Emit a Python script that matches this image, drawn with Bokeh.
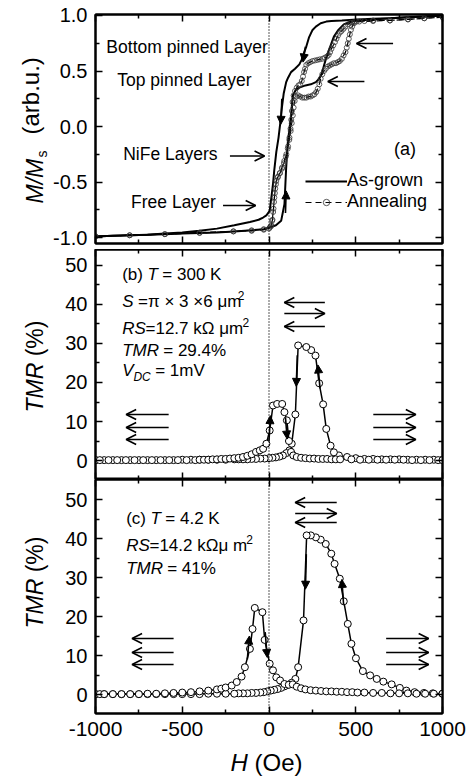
import math
from bokeh.plotting import figure
from bokeh.models import (Range1d, LinearAxis, FixedTicker, PrintfTickFormatter,
                          Span, Label, Arrow, OpenHead, NormalHead, Legend, LegendItem)
from bokeh.layouts import column, row
from bokeh.embed import file_html
from bokeh.resources import INLINE

# ---------------- data ----------------
x_major = [-1000, -500, 0, 500, 1000]
x_minor = [-750, -250, 250, 750]
m_major = [-1.0, -0.5, 0.0, 0.5, 1.0]
m_minor = [-0.75, -0.25, 0.25, 0.75]
tmr_major = [0, 10, 20, 30, 40, 50]
tmr_minor = [5, 15, 25, 35, 45]

# (a) M/Ms, as-grown, field increasing
ag_up_H = [-1000, -900, -800, -700, -600, -500, -400, -300, -200, -100,
           -30, 4, 40, 70, 89, 99, 108, 118, 127, 137,
           155, 175, 210, 241, 270, 289, 305, 317, 330, 346,
           374, 400, 431, 470, 507, 600, 700, 800, 900, 1000]
ag_up_M = [-0.99, -0.985, -0.98, -0.975, -0.97, -0.965, -0.96, -0.955, -0.945, -0.935,
           -0.925, -0.91, -0.89, -0.85, -0.70, -0.37, -0.15, -0.02, 0.10, 0.28,
           0.33, 0.35, 0.37, 0.38, 0.40, 0.43, 0.48, 0.55, 0.62, 0.69,
           0.81, 0.87, 0.92, 0.945, 0.955, 0.965, 0.975, 0.985, 0.99, 1.0]
# (a) as-grown, field decreasing
ag_dn_H = [1000, 900, 800, 700, 600, 507, 420, 360, 330, 298,
           270, 251, 230, 215, 203, 188, 175, 150, 127, 110,
           99, 85, 75, 68, 55, 42, 30, 23, 12, 4,
           -15, -34, -60, -110, -200, -300, -400, -500, -600, -700,
           -800, -900, -1000]
ag_dn_M = [1.0, 0.99, 0.985, 0.975, 0.97, 0.965, 0.955, 0.95, 0.945, 0.93,
           0.90, 0.87, 0.80, 0.72, 0.67, 0.60, 0.56, 0.52, 0.49, 0.44,
           0.40, 0.30, 0.18, 0.07, -0.10, -0.23, -0.40, -0.52, -0.66, -0.76,
           -0.80, -0.82, -0.84, -0.86, -0.89, -0.92, -0.94, -0.955, -0.965, -0.975,
           -0.98, -0.985, -0.99]
# (a) annealed, field increasing
an_up_H = [-1000, -803, -600, -400, -205, -100, -30, 4, 13, 20,
           26, 31, 36, 42, 52, 63, 75, 86, 97, 108,
           117, 125, 131, 137, 142, 148, 157, 168, 180, 192,
           204, 215, 228, 240, 251, 262, 272, 281, 290, 298,
           307, 317, 327, 339, 350, 362, 374, 386, 397, 408,
           420, 430, 441, 448, 454, 460, 466, 472, 479, 490,
           505, 550, 600, 697, 801, 895, 1000]
an_up_M = [-0.99, -0.98, -0.97, -0.96, -0.945, -0.935, -0.925, -0.91, -0.89, -0.84,
           -0.74, -0.64, -0.56, -0.49, -0.45, -0.42, -0.38, -0.33, -0.27, -0.20,
           -0.12, -0.04, 0.03, 0.10, 0.17, 0.23, 0.27, 0.28, 0.27, 0.26,
           0.26, 0.26, 0.27, 0.27, 0.28, 0.29, 0.31, 0.34, 0.38, 0.43,
           0.47, 0.50, 0.52, 0.54, 0.55, 0.56, 0.57, 0.57, 0.58, 0.59,
           0.61, 0.64, 0.67, 0.71, 0.75, 0.79, 0.83, 0.87, 0.90, 0.93,
           0.945, 0.95, 0.955, 0.955, 0.965, 0.975, 0.985]
# (a) annealed, field decreasing
an_dn_H = [1000, 895, 801, 697, 600, 520, 490, 470, 455, 441,
           430, 418, 408, 398, 389, 380, 370, 360, 352, 344,
           334, 322, 308, 293, 279, 265, 251, 238, 226, 215,
           208, 202, 196, 189, 180, 170, 160, 150, 142, 136,
           132, 128, 124, 118, 110, 100, 88, 75, 62, 50,
           40, 34, 29, 24, 18, 11, 0, -30, -100, -205,
           -400, -600, -803, -1000]
an_dn_M = [0.985, 0.975, 0.965, 0.955, 0.95, 0.945, 0.94, 0.935, 0.92, 0.90,
           0.88, 0.86, 0.845, 0.82, 0.79, 0.76, 0.73, 0.70, 0.67, 0.645,
           0.63, 0.62, 0.61, 0.605, 0.60, 0.595, 0.59, 0.58, 0.57, 0.555,
           0.52, 0.49, 0.45, 0.41, 0.38, 0.37, 0.35, 0.32, 0.28, 0.22,
           0.14, 0.06, -0.02, -0.10, -0.18, -0.25, -0.31, -0.37, -0.42, -0.46,
           -0.52, -0.60, -0.68, -0.77, -0.85, -0.90, -0.92, -0.93, -0.94, -0.945,
           -0.955, -0.97, -0.98, -0.99]

# (b) TMR at 300 K, field decreasing
b_dn_H = [1000, 950, 900, 850, 800, 750, 700, 650, 600, 550, 500, 450,
          403, 374, 355, 330, 312, 289, 268, 243, 215, 168,
          152, 131, 118, 100, 80, 60, 40, 20, 0,
          -25, -50, -75, -100, -125, -150, -175, -200,
          -250, -300, -350, -400, -450, -500, -550, -600, -650, -700, -750, -800, -850, -900, -950, -1000]
b_dn_T = [0.2, 0.2, 0.2, 0.2, 0.2, 0.3, 0.3, 0.3, 0.4, 0.4, 0.6, 0.9,
          1.3, 2.1, 3.8, 8.1, 14.4, 19.8, 26.9, 28.3, 29.1, 29.5,
          11.8, 4.3, 2.6, 1.9, 1.3, 1.0, 0.8, 0.7, 0.6,
          0.5, 0.5, 0.4, 0.4, 0.3, 0.3, 0.3, 0.3,
          0.2, 0.2, 0.2, 0.2, 0.2, 0.2, 0.1, 0.1, 0.1, 0.1, 0.1, 0.1, 0.1, 0.1, 0.1, 0.1]
# (b) field increasing
b_up_H = [-1000, -975, -925, -875, -825, -775, -725, -675, -625, -575, -525, -475, -425,
          -400, -375, -350, -325, -300, -275, -250, -225, -200, -175, -150, -125, -100, -75,
          -53, -34, -15, 4, 23, 47, 76, 89, 103, 115, 127,
          140, 160, 185, 210, 235, 260, 285, 310, 335, 360, 385, 410,
          475, 525, 575, 625, 675, 725, 775, 825, 875, 925, 975, 1000]
b_up_T = [0.1, 0.1, 0.1, 0.1, 0.1, 0.1, 0.1, 0.1, 0.1, 0.1, 0.1, 0.1, 0.1,
          0.2, 0.2, 0.2, 0.3, 0.3, 0.4, 0.4, 0.5, 0.6, 0.7, 0.9, 1.2, 1.6, 2.2,
          2.6, 3.0, 4.3, 7.7, 14.1, 14.5, 14.5, 12.4, 10.3, 5.0, 2.2,
          1.3, 0.9, 0.7, 0.6, 0.5, 0.5, 0.4, 0.4, 0.4, 0.3, 0.3, 0.3,
          0.3, 0.2, 0.2, 0.2, 0.2, 0.2, 0.2, 0.1, 0.1, 0.1, 0.1, 0.1]

# (c) TMR at 4.2 K, field decreasing
c_dn_H = [1000, 944, 893, 839, 792, 754, 707, 659, 621, 583,
          541, 501, 475, 454, 431, 408, 378, 359, 327, 298,
          270, 241, 217,
          199, 168, 152, 130, 110, 90, 70, 50, 30, 10,
          -10, -30, -50, -75, -100, -125, -150, -175, -200,
          -250, -300, -350, -400, -450, -500, -550, -600, -650, -700, -750, -800, -850, -900, -950, -1000]
c_dn_T = [0.2, 0.3, 0.4, 0.6, 1.0, 1.7, 2.6, 3.3, 4.0, 4.9,
          6.0, 9.3, 13.0, 18.1, 23.9, 29.7, 33.5, 36.1, 38.6, 39.7,
          40.3, 40.8, 40.8,
          19.0, 7.0, 4.0, 3.0, 2.5, 2.1, 1.7, 1.4, 1.2, 1.0,
          0.8, 0.6, 0.5, 0.4, 0.4, 0.3, 0.3, 0.3, 0.2,
          0.2, 0.2, 0.2, 0.1, 0.1, 0.1, 0.1, 0.1, 0.1, 0.1, 0.1, 0.1, 0.1, 0.1, 0.1, 0.1]
# (c) field increasing
c_up_H = [-1000, -975, -950, -900, -850, -800, -750, -700, -650, -600,
          -550, -500, -450, -400, -350, -300, -275, -250, -215, -186,
          -158, -139, -110, -95, -82, -38, -25, 4, 23, 42,
          64, 89, 114, 137, 160, 185, 210, 240, 270, 300,
          330, 360, 390, 420, 450, 480, 510, 550, 600, 650,
          700, 750, 800, 850, 900, 950, 1000]
c_up_T = [0.1, 0.1, 0.1, 0.1, 0.1, 0.1, 0.1, 0.2, 0.2, 0.3,
          0.4, 0.5, 0.6, 0.8, 1.0, 1.3, 1.5, 1.8, 2.3, 3.2,
          4.6, 7.0, 11.7, 16.8, 22.2, 21.1, 14.0, 7.9, 6.2, 4.4,
          3.6, 2.7, 2.5, 2.6, 2.0, 1.6, 1.3, 1.1, 1.0, 0.9,
          0.8, 0.8, 0.7, 0.7, 0.6, 0.6, 0.5, 0.5, 0.4, 0.4,
          0.3, 0.3, 0.3, 0.2, 0.2, 0.2, 0.2]

for a_, b_ in [(ag_up_H, ag_up_M), (ag_dn_H, ag_dn_M), (an_up_H, an_up_M), (an_dn_H, an_dn_M),
               (b_dn_H, b_dn_T), (b_up_H, b_up_T), (c_dn_H, c_dn_T), (c_up_H, c_up_T)]:
    assert len(a_) == len(b_), (len(a_), len(b_))

# ---------------- layout helpers ----------------
FONT = "Liberation Sans"
STRIP = 50            # width of the left strip holding the rotated axis titles
FL, FR = 91, 442      # frame left/right in window pixels
PANELS = {"a": (14, 243, -1.054, 1.009),
          "b": (249, 479, -4.87, 54.10),
          "c": (479, 713, -4.87, 55.13)}
GAP_AB = 6
X_LABEL_H = 32
TOP_H = 778 - X_LABEL_H
MID = 0.35            # label anchor sits this many em above the alphabetic baseline

def hx(px):
    return -1000 + (px - FL) / (FR - FL) * 2000

def vy(key, py):
    top, bot, y0, y1 = PANELS[key]
    return y1 - (py - top) / (bot - top) * (y1 - y0)

WID = {' ': 278, '(': 333, ')': 333, '%': 889, '.': 278, '=': 584, '-': 333, '/': 278,
       '\u00d7': 584, '\u03c0': 549, '\u03bc': 576, '\u03a9': 768,
       'A': 667, 'B': 667, 'C': 722, 'D': 722, 'F': 611, 'H': 722, 'K': 667, 'L': 556,
       'M': 833, 'N': 722, 'O': 778, 'R': 722, 'S': 667, 'T': 611, 'V': 667,
       'a': 556, 'b': 556, 'c': 500, 'd': 556, 'e': 556, 'g': 556, 'i': 222, 'k': 500,
       'l': 222, 'm': 833, 'n': 556, 'o': 556, 'p': 556, 'r': 333, 's': 500, 't': 278,
       'u': 556, 'w': 722, 'y': 500}

def tw(s, size):
    return sum(WID.get(ch, 556) for ch in s) * size / 1000.0

def label(p, text, x, y, size, style="normal", angle=0.0):
    p.add_layout(Label(x=x, y=y, text=text, text_font=FONT, text_font_size=f"{size}px",
                       text_font_style=style, text_color="black", angle=angle,
                       text_align="left", text_baseline="alphabetic"))

def rich(p, key, x_px, base_py, pieces):
    cur = x_px
    for text, style, size, dy in pieces:
        lead = len(text) - len(text.lstrip(" "))
        label(p, text.strip(), hx(cur + tw(" " * lead, size)),
              vy(key, base_py + dy - MID * size), size, style)
        cur += tw(text, size)

def style_axis(ax, show, size):
    ax.axis_line_width = 2
    ax.axis_line_color = "black"
    ax.major_tick_in = 7
    ax.major_tick_out = 0
    ax.minor_tick_in = 4
    ax.minor_tick_out = 0
    ax.major_tick_line_width = 1.5
    ax.minor_tick_line_width = 1.5
    ax.major_tick_line_color = "black"
    ax.minor_tick_line_color = "black"
    ax.major_label_text_font = FONT
    ax.major_label_text_color = "black"
    if show:
        ax.major_label_text_font_size = f"{size}px"
        ax.major_label_standoff = 8
    else:
        ax.major_label_text_font_size = "0px"
        ax.major_label_text_alpha = 0
        ax.major_label_standoff = 0

def make_panel(key, ymaj, yminor, yfmt, show_x, btop, bbot):
    top, bot, y0, y1 = PANELS[key]
    p = figure(width=473 - STRIP, height=btop + (bot - top) + bbot,
               x_range=Range1d(-1000, 1000), y_range=Range1d(y0, y1),
               output_backend="svg", toolbar_location=None,
               x_axis_location=None, y_axis_location=None,
               min_border_left=FL - STRIP, min_border_right=473 - FR,
               min_border_top=btop, min_border_bottom=bbot)
    p.grid.visible = False
    p.outline_line_color = "black"
    p.outline_line_width = 2
    p.background_fill_color = "white"
    p.border_fill_color = "white"
    for loc, show in (("below", show_x), ("above", False)):
        ax = LinearAxis(ticker=FixedTicker(ticks=x_major, minor_ticks=x_minor),
                        formatter=PrintfTickFormatter(format="%d"))
        style_axis(ax, show, 21)
        p.add_layout(ax, loc)
    for loc, show in (("left", True), ("right", False)):
        ax = LinearAxis(ticker=FixedTicker(ticks=ymaj, minor_ticks=yminor),
                        formatter=PrintfTickFormatter(format=yfmt))
        style_axis(ax, show, 20)
        p.add_layout(ax, loc)
    p.add_layout(Span(location=0, dimension="height", line_color="black",
                      line_dash="1 2", line_width=1.3))
    return p

def arrow(p, x1, y1, x2, y2, filled=False):
    if filled:
        head = NormalHead(size=8, fill_color="black", line_color="black", line_width=1)
    else:
        head = OpenHead(size=10, line_color="black", line_width=1.6)
    p.add_layout(Arrow(end=head, x_start=x1, y_start=y1, x_end=x2, y_end=y2,
                       line_color="black", line_width=1.6))

def harrow(p, key, px_tail, px_head, py):
    arrow(p, hx(px_tail), vy(key, py), hx(px_head), vy(key, py))

# ---------------- panel (a) ----------------
pa = make_panel("a", m_major, m_minor, "%.1f", False, 14, GAP_AB)
r_ag1 = pa.line(ag_up_H, ag_up_M, line_color="black", line_width=2)
pa.line(ag_dn_H, ag_dn_M, line_color="black", line_width=2)
r_an_l = pa.line(an_up_H, an_up_M, line_color="black", line_width=1.2, line_dash="6 4")
pa.line(an_dn_H, an_dn_M, line_color="black", line_width=1.2, line_dash="6 4")
r_an_c = pa.scatter(an_up_H, an_up_M, marker="circle", size=5, fill_color=None,
                    line_color="#333333", line_width=0.8)
pa.scatter(an_dn_H, an_dn_M, marker="circle", size=5, fill_color=None,
           line_color="#333333", line_width=0.8)

legend = Legend(items=[LegendItem(label="As-grown", renderers=[r_ag1]),
                       LegendItem(label="Annealing", renderers=[r_an_l, r_an_c])],
                location=(210, 31), glyph_width=42, glyph_height=16,
                label_height=16, label_standoff=0, spacing=0, padding=0, margin=0,
                label_text_font=FONT, label_text_font_size="18px", label_text_color="black",
                border_line_alpha=0, background_fill_alpha=0)
pa.add_layout(legend)

for txt, x, y in [("Bottom pinned Layer", 102, 53), ("Top pinned Layer", 113, 86),
                  ("NiFe Layers", 119, 160), ("Free Layer", 127, 208)]:
    rich(pa, "a", x, y, [(txt, "normal", 17.5, 0)])
rich(pa, "a", 393, 155, [("(a)", "normal", 18, 0)])
harrow(pa, "a", 227, 262, 155.5)
harrow(pa, "a", 220, 253, 205)
harrow(pa, "a", 392, 355, 43)
harrow(pa, "a", 363, 326, 81)
arrow(pa, 210, 0.72, 196, 0.58, True)
arrow(pa, 74, 0.25, 68, 0.02, True)
arrow(pa, 95, -0.78, 99, -0.58, True)

# ---------------- panel (b) ----------------
pb = make_panel("b", tmr_major, tmr_minor, "%d", False, 0, 0)
for H, T in [(b_dn_H, b_dn_T), (b_up_H, b_up_T)]:
    pb.line(H, T, line_color="black", line_width=1.5)
for H, T in [(b_dn_H, b_dn_T), (b_up_H, b_up_T)]:
    pb.scatter(H, T, marker="circle", size=7, fill_color="white", line_color="black", line_width=1)

S17 = 17
rich(pb, "b", 118, 280, [("(b) ", "normal", S17, 0), ("T", "italic", S17, 0), (" = 300 K", "normal", S17, 0)])
rich(pb, "b", 118, 307, [("S", "italic", S17, 0), (" =\u03c0 \u00d7 3 \u00d76 \u03bcm", "normal", S17, 0),
                         ("2", "normal", 12, -8)])
rich(pb, "b", 118, 334, [("RS", "italic", S17, 0), ("=12.7 k\u03a9 \u03bcm", "normal", S17, 0),
                         ("2", "normal", 12, -8)])
rich(pb, "b", 118, 356, [("TMR", "italic", S17, 0), (" = 29.4%", "normal", S17, 0)])
rich(pb, "b", 118, 376, [("V", "italic", S17, 0), ("DC", "italic", 12, 5), (" = 1mV", "normal", S17, 0)])
for py in (414, 427, 439):
    harrow(pb, "b", 165, 122, py)
    harrow(pb, "b", 372, 415, py)
harrow(pb, "b", 323, 282, 302)
harrow(pb, "b", 282, 323, 313)
harrow(pb, "b", 323, 282, 326)
arrow(pb, 0, 5, 8, 11.5, True)
arrow(pb, 95, 11, 105, 5.5, True)
arrow(pb, 163, 27, 157, 19, True)
arrow(pb, 294, 18.5, 282, 24.5, True)

# ---------------- panel (c) ----------------
pc = make_panel("c", tmr_major, tmr_minor, "%d", True, 0, TOP_H - 713)
for H, T in [(c_dn_H, c_dn_T), (c_up_H, c_up_T)]:
    pc.line(H, T, line_color="black", line_width=1.5)
for H, T in [(c_dn_H, c_dn_T), (c_up_H, c_up_T)]:
    pc.scatter(H, T, marker="circle", size=7, fill_color="white", line_color="black", line_width=1)

rich(pc, "c", 122, 524, [("(c) ", "normal", S17, 0), ("T", "italic", S17, 0), (" = 4.2 K", "normal", S17, 0)])
rich(pc, "c", 122, 551, [("RS", "italic", S17, 0), ("=14.2 k\u03a9\u03bc m", "normal", S17, 0),
                         ("2", "normal", 12, -8)])
rich(pc, "c", 122, 574, [("TMR", "italic", S17, 0), (" = 41%", "normal", S17, 0)])
for py in (638, 652, 664):
    harrow(pc, "c", 170, 128, py)
    harrow(pc, "c", 385, 428, py)
harrow(pc, "c", 335, 293, 502)
harrow(pc, "c", 293, 335, 513)
harrow(pc, "c", 335, 293, 522)
arrow(pc, -125, 9, -113, 15, True)
arrow(pc, -22, 16, -10, 9.5, True)
arrow(pc, 215, 36, 210, 27, True)
arrow(pc, 430, 23, 420, 29.5, True)

# ---------------- axis titles (strips) ----------------
def strip(width, height):
    s = figure(width=width, height=height, x_range=Range1d(0, width), y_range=Range1d(0, height),
               output_backend="svg", toolbar_location=None, x_axis_location=None, y_axis_location=None,
               min_border=0, min_border_left=0, min_border_right=0, min_border_top=0, min_border_bottom=0)
    s.grid.visible = False
    s.outline_line_color = None
    s.background_fill_color = "white"
    s.border_fill_color = "white"
    return s

left = strip(STRIP, TOP_H)

def vtitle(pieces):
    # (text, style, size, baseline x in px, start y in px)
    for text, style, size, base_x, start in pieces:
        label(left, text, base_x - MID * size, TOP_H - start, size, style, angle=math.pi / 2)

vtitle([("M/M", "italic", 23, 43, 203), ("s", "normal", 14, 46, 157), ("(arb.u.)", "normal", 24, 38, 134)])
vtitle([("TMR", "italic", 23, 43, 412), ("(%)", "normal", 23, 43, 412 - tw("TMR ", 23))])
vtitle([("TMR", "italic", 23, 43, 628), ("(%)", "normal", 23, 43, 628 - tw("TMR ", 23))])

bottom = strip(473, X_LABEL_H)
XT_SIZE = 24
xt_y = 778 - (770 - MID * XT_SIZE)
label(bottom, "H", 230, xt_y, XT_SIZE, "italic")
label(bottom, "(Oe)", 230 + tw("H ", XT_SIZE), xt_y, XT_SIZE, "normal")

layout = column(row(left, column(pa, pb, pc, spacing=0), spacing=0), bottom, spacing=0)
open("out.html", "w").write(file_html(layout, INLINE))
